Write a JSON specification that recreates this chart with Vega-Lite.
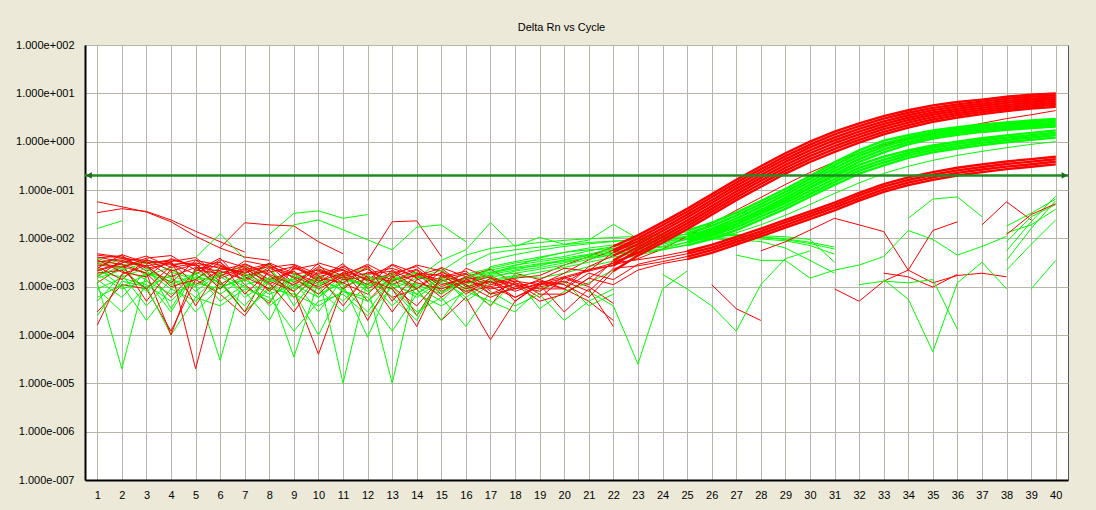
{
"$schema":"https://vega.github.io/schema/vega-lite/v6.json",
"autosize":"none",
"width":983,"height":435,
"padding":{"left":85,"top":45,"right":28,"bottom":30},
"background":"#ece9d8",
"title":{"text":"Delta Rn vs Cycle","font":"Liberation Sans","fontSize":11,"fontWeight":"normal","color":"#000000","anchor":"middle","dx":-15,"offset":6},
"config":{"view":{"fill":"#ffffff","stroke":"#555555","strokeWidth":1},
"axis":{"labelFont":"Liberation Sans","labelFontSize":11,"labelColor":"#000000","gridColor":"#b8b4a8","gridOpacity":1,"gridWidth":1,"domainColor":"#000000","domainWidth":2,"ticks":false,"title":null,"labelOverlap":false,"labelFlush":false}},
"datasets":{
"ser":[
{"s":"R1","t":"r"},{"s":"R2","t":"r"},{"s":"R3","t":"r"},{"s":"R4","t":"r"},{"s":"R5","t":"r"},{"s":"R6","t":"r"},{"s":"R7","t":"r"},{"s":"R8","t":"r"},{"s":"R9","t":"r"},
{"s":"L1","t":"r"},{"s":"L2","t":"r"},{"s":"L3","t":"r"},{"s":"L4","t":"r"},
{"s":"H1","t":"r"},{"s":"H2","t":"r"},{"s":"H5","t":"r"},{"s":"H6","t":"r"},{"s":"N1","t":"r"},{"s":"N2","t":"r"},{"s":"N5","t":"r"},{"s":"N7","t":"r"},{"s":"N8","t":"r"},
{"s":"S1","t":"r"},{"s":"S2","t":"r"},{"s":"S6","t":"r"},{"s":"S7","t":"r"},{"s":"S8","t":"r"},{"s":"C6","t":"r"},
{"s":"A1","t":"g"},{"s":"A2","t":"g"},{"s":"A3","t":"g"},{"s":"A4","t":"g"},{"s":"A5","t":"g"},
{"s":"B1","t":"g"},{"s":"B2","t":"g"},{"s":"B3","t":"g"},{"s":"B4","t":"g"},{"s":"G1","t":"g"},
{"s":"F1","t":"g"},{"s":"F2","t":"g"},{"s":"F3","t":"g"},{"s":"F4","t":"g"},{"s":"F5","t":"g"},
{"s":"H3","t":"g"},{"s":"H4","t":"g"},{"s":"H7","t":"g"},{"s":"H8","t":"g"},{"s":"N3","t":"g"},{"s":"N4","t":"g"},{"s":"N6","t":"g"},{"s":"N9","t":"g"},{"s":"N10","t":"g"},
{"s":"S3","t":"g"},{"s":"S4","t":"g"},{"s":"S5","t":"g"},{"s":"S10","t":"g"},{"s":"W2","t":"g"},{"s":"W3","t":"g"},
{"s":"C1","t":"g"},{"s":"C2","t":"g"},{"s":"C3","t":"g"},{"s":"C4","t":"g"},{"s":"C5","t":"g"},{"s":"C7","t":"g"},{"s":"C8","t":"g"}
],
"pts":[
{"s":"N1","c":1,"v":0.0048},{"s":"N1","c":2,"v":0.0041},{"s":"N1","c":3,"v":0.003},{"s":"N1","c":4,"v":0.0036},{"s":"N1","c":5,"v":0.0027},{"s":"N1","c":6,"v":0.0032},{"s":"N1","c":7,"v":0.0013},{"s":"N1","c":8,"v":0.0025},{"s":"N1","c":9,"v":0.0029},{"s":"N1","c":10,"v":0.0018},{"s":"N1","c":11,"v":0.0023},{"s":"N1","c":12,"v":0.0005},{"s":"N1","c":13,"v":0.0017},{"s":"N1","c":14,"v":0.0028},{"s":"N1","c":15,"v":0.0021},{"s":"N1","c":16,"v":0.0011},{"s":"N1","c":17,"v":0.0004},{"s":"N1","c":18,"v":0.0019},{"s":"N1","c":19,"v":0.0014},{"s":"N1","c":20,"v":0.0009},{"s":"N1","c":21,"v":0.0005},{"s":"N1","c":22,"v":0.0002},
{"s":"N3","c":1,"v":0.0006},{"s":"N3","c":2,"v":0.0011},{"s":"N3","c":3,"v":0.0002},{"s":"N3","c":4,"v":0.0009},{"s":"N3","c":5,"v":0.0005},{"s":"N3","c":6,"v":0.0012},{"s":"N3","c":7,"v":0.0003},{"s":"N3","c":8,"v":0.0009},{"s":"N3","c":9,"v":0.0007},{"s":"N3","c":10,"v":0.0004},{"s":"N3","c":11,"v":0.0008},{"s":"N3","c":12,"v":0.0006},{"s":"N3","c":13,"v":0.00012},{"s":"N3","c":14,"v":0.0007},{"s":"N3","c":15,"v":0.0004},{"s":"N3","c":16,"v":0.0008},{"s":"N3","c":17,"v":0.0005},{"s":"N3","c":18,"v":0.0003},{"s":"N3","c":19,"v":0.0009},{"s":"N3","c":20,"v":0.0013},{"s":"N3","c":21,"v":0.0004},{"s":"N3","c":22,"v":0.0007},
{"s":"N7","c":1,"v":0.0039},{"s":"N7","c":2,"v":0.0044},{"s":"N7","c":3,"v":0.0021},{"s":"N7","c":4,"v":0.0033},{"s":"N7","c":5,"v":0.004},{"s":"N7","c":6,"v":0.0016},{"s":"N7","c":7,"v":0.0034},{"s":"N7","c":8,"v":0.0027},{"s":"N7","c":9,"v":0.001},{"s":"N7","c":10,"v":0.0031},{"s":"N7","c":11,"v":0.0022},{"s":"N7","c":12,"v":0.0014},{"s":"N7","c":13,"v":0.0029},{"s":"N7","c":14,"v":0.0019},{"s":"N7","c":15,"v":0.0007},{"s":"N7","c":16,"v":0.0024},{"s":"N7","c":17,"v":0.0015},{"s":"N7","c":18,"v":0.0009},
{"s":"N9","c":1,"v":0.0027},{"s":"N9","c":2,"v":0.0036},{"s":"N9","c":3,"v":0.0017},{"s":"N9","c":4,"v":0.0025},{"s":"N9","c":5,"v":0.0008},{"s":"N9","c":6,"v":0.0019},{"s":"N9","c":7,"v":0.0026},{"s":"N9","c":8,"v":0.0013},{"s":"N9","c":9,"v":0.0021},{"s":"N9","c":10,"v":0.0006},{"s":"N9","c":11,"v":0.0018},{"s":"N9","c":12,"v":0.0024},{"s":"N9","c":13,"v":0.0009},{"s":"N9","c":14,"v":0.0015},{"s":"N9","c":15,"v":0.0022},{"s":"N9","c":16,"v":0.001},{"s":"N9","c":17,"v":0.0004},{"s":"N9","c":18,"v":0.0013},
{"s":"N2","c":1,"v":0.0022},{"s":"N2","c":2,"v":0.0031},{"s":"N2","c":3,"v":0.0043},{"s":"N2","c":4,"v":0.0025},{"s":"N2","c":5,"v":0.003},{"s":"N2","c":6,"v":0.0011},{"s":"N2","c":7,"v":0.0022},{"s":"N2","c":8,"v":0.003},{"s":"N2","c":9,"v":0.0012},{"s":"N2","c":10,"v":0.0026},{"s":"N2","c":11,"v":0.0017},{"s":"N2","c":12,"v":0.0029},{"s":"N2","c":13,"v":0.0016},{"s":"N2","c":14,"v":0.0009},{"s":"N2","c":15,"v":0.0025},{"s":"N2","c":16,"v":0.0016},{"s":"N2","c":17,"v":0.0023},{"s":"N2","c":18,"v":0.0012},{"s":"N2","c":19,"v":0.0006},{"s":"N2","c":20,"v":0.0015},{"s":"N2","c":21,"v":0.001},{"s":"N2","c":22,"v":0.00045},
{"s":"N4","c":1,"v":0.0038},{"s":"N4","c":2,"v":0.0028},{"s":"N4","c":3,"v":0.0034},{"s":"N4","c":4,"v":0.0022},{"s":"N4","c":5,"v":0.0015},{"s":"N4","c":6,"v":0.0024},{"s":"N4","c":7,"v":0.0018},{"s":"N4","c":8,"v":0.0009},{"s":"N4","c":9,"v":0.0014},{"s":"N4","c":10,"v":0.0023},{"s":"N4","c":11,"v":0.0016},{"s":"N4","c":12,"v":0.001},{"s":"N4","c":13,"v":0.002},{"s":"N4","c":14,"v":0.0007},{"s":"N4","c":15,"v":0.0017},{"s":"N4","c":16,"v":0.0005},{"s":"N4","c":17,"v":0.0011},{"s":"N4","c":18,"v":0.0016},{"s":"N4","c":19,"v":0.00035},{"s":"N4","c":20,"v":0.0008},{"s":"N4","c":21,"v":0.0012},{"s":"N4","c":22,"v":0.0022},
{"s":"N8","c":1,"v":0.0012},{"s":"N8","c":2,"v":0.0026},{"s":"N8","c":3,"v":0.0019},{"s":"N8","c":4,"v":0.0006},{"s":"N8","c":5,"v":0.0021},{"s":"N8","c":6,"v":0.0039},{"s":"N8","c":7,"v":0.0011},{"s":"N8","c":8,"v":0.00045},{"s":"N8","c":9,"v":0.0026},{"s":"N8","c":10,"v":0.0014},{"s":"N8","c":11,"v":0.003},{"s":"N8","c":12,"v":0.0009},{"s":"N8","c":13,"v":0.0018},{"s":"N8","c":14,"v":0.00025},{"s":"N8","c":15,"v":0.0016},{"s":"N8","c":16,"v":0.0021},{"s":"N8","c":17,"v":0.0008},
{"s":"N10","c":1,"v":0.0015},{"s":"N10","c":2,"v":0.0022},{"s":"N10","c":3,"v":0.0031},{"s":"N10","c":4,"v":0.00035},{"s":"N10","c":5,"v":0.0024},{"s":"N10","c":6,"v":0.001},{"s":"N10","c":7,"v":0.0014},{"s":"N10","c":8,"v":0.0028},{"s":"N10","c":9,"v":0.0004},{"s":"N10","c":10,"v":0.0017},{"s":"N10","c":11,"v":0.0011},{"s":"N10","c":12,"v":0.00009},{"s":"N10","c":13,"v":0.0013},{"s":"N10","c":14,"v":0.002},{"s":"N10","c":15,"v":0.0009},{"s":"N10","c":16,"v":0.0016},
{"s":"N5","c":1,"v":0.0003},{"s":"N5","c":2,"v":0.0011},{"s":"N5","c":3,"v":0.0009},{"s":"N5","c":4,"v":0.00012},{"s":"N5","c":5,"v":0.0014},{"s":"N5","c":6,"v":0.0007},{"s":"N5","c":7,"v":0.00025},{"s":"N5","c":8,"v":0.0013},{"s":"N5","c":9,"v":0.0008},{"s":"N5","c":10,"v":0.00004},{"s":"N5","c":11,"v":0.001},{"s":"N5","c":12,"v":0.0015},{"s":"N5","c":13,"v":0.0006},{"s":"N5","c":14,"v":0.0009},{"s":"N5","c":15,"v":0.0002},{"s":"N5","c":16,"v":0.0006},{"s":"N5","c":17,"v":0.00008},{"s":"N5","c":18,"v":0.0005},{"s":"N5","c":19,"v":0.0011},{"s":"N5","c":20,"v":0.0003},{"s":"N5","c":21,"v":0.0009},{"s":"N5","c":22,"v":0.00015},
{"s":"N6","c":1,"v":0.0009},{"s":"N6","c":2,"v":0.0003},{"s":"N6","c":3,"v":0.001},{"s":"N6","c":4,"v":0.0001},{"s":"N6","c":5,"v":0.0006},{"s":"N6","c":6,"v":0.0004},{"s":"N6","c":7,"v":0.0009},{"s":"N6","c":8,"v":0.0006},{"s":"N6","c":9,"v":0.00012},{"s":"N6","c":10,"v":0.0005},{"s":"N6","c":11,"v":0.0007},{"s":"N6","c":12,"v":0.00025},{"s":"N6","c":13,"v":0.001},{"s":"N6","c":14,"v":0.0003},{"s":"N6","c":15,"v":0.0006},{"s":"N6","c":16,"v":0.00015},{"s":"N6","c":17,"v":0.0008},{"s":"N6","c":18,"v":0.0004},{"s":"N6","c":19,"v":0.0007},{"s":"N6","c":20,"v":0.0002},{"s":"N6","c":21,"v":0.0005},{"s":"N6","c":22,"v":0.0009},
{"s":"H1","c":1,"v":0.057},{"s":"H1","c":2,"v":0.045},{"s":"H1","c":3,"v":0.035},{"s":"H1","c":4,"v":0.022},{"s":"H1","c":5,"v":0.011},{"s":"H1","c":6,"v":0.0063},{"s":"H1","c":7,"v":0.0041},{"s":"H1","c":8,"v":0.0035},
{"s":"H2","c":1,"v":0.034},{"s":"H2","c":2,"v":0.041},{"s":"H2","c":3,"v":0.036},{"s":"H2","c":4,"v":0.024},{"s":"H2","c":5,"v":0.014},{"s":"H2","c":6,"v":0.0085},{"s":"H2","c":7,"v":0.0052},
{"s":"H3","c":1,"v":0.016},{"s":"H3","c":2,"v":0.023},
{"s":"H4","c":8,"v":0.012},{"s":"H4","c":9,"v":0.033},{"s":"H4","c":10,"v":0.037},{"s":"H4","c":11,"v":0.026},{"s":"H4","c":12,"v":0.031},
{"s":"H5","c":6,"v":0.0064},{"s":"H5","c":7,"v":0.021},{"s":"H5","c":8,"v":0.019},{"s":"H5","c":9,"v":0.018},{"s":"H5","c":10,"v":0.0085},{"s":"H5","c":11,"v":0.0048},
{"s":"H6","c":12,"v":0.0035},{"s":"H6","c":13,"v":0.022},{"s":"H6","c":14,"v":0.023},{"s":"H6","c":15,"v":0.0042},
{"s":"H7","c":8,"v":0.0062},{"s":"H7","c":9,"v":0.019},{"s":"H7","c":10,"v":0.024},{"s":"H7","c":11,"v":0.015},{"s":"H7","c":12,"v":0.0093},{"s":"H7","c":13,"v":0.0058},{"s":"H7","c":14,"v":0.017},{"s":"H7","c":15,"v":0.019},{"s":"H7","c":16,"v":0.0085},
{"s":"H8","c":5,"v":0.004},{"s":"H8","c":6,"v":0.0125},{"s":"H8","c":7,"v":0.0038},
{"s":"F1","c":15,"v":0.0021},{"s":"F1","c":16,"v":0.0045},{"s":"F1","c":17,"v":0.0062},{"s":"F1","c":18,"v":0.0071},{"s":"F1","c":19,"v":0.0082},{"s":"F1","c":20,"v":0.0091},{"s":"F1","c":21,"v":0.0098},{"s":"F1","c":22,"v":0.0104},{"s":"F1","c":23,"v":0.011},{"s":"F1","c":24,"v":0.0115},{"s":"F1","c":25,"v":0.012},{"s":"F1","c":26,"v":0.0118},{"s":"F1","c":27,"v":0.0112},{"s":"F1","c":28,"v":0.0105},{"s":"F1","c":29,"v":0.0094},{"s":"F1","c":30,"v":0.0078},{"s":"F1","c":31,"v":0.006},
{"s":"F2","c":16,"v":0.0028},{"s":"F2","c":17,"v":0.0049},{"s":"F2","c":18,"v":0.0058},{"s":"F2","c":19,"v":0.0066},{"s":"F2","c":20,"v":0.0074},{"s":"F2","c":21,"v":0.0082},{"s":"F2","c":22,"v":0.0088},{"s":"F2","c":23,"v":0.0094},{"s":"F2","c":24,"v":0.0098},{"s":"F2","c":25,"v":0.0101},{"s":"F2","c":26,"v":0.0103},{"s":"F2","c":27,"v":0.0101},{"s":"F2","c":28,"v":0.0097},{"s":"F2","c":29,"v":0.0089},{"s":"F2","c":30,"v":0.0071},{"s":"F2","c":31,"v":0.0047},
{"s":"F3","c":17,"v":0.0035},{"s":"F3","c":18,"v":0.0046},{"s":"F3","c":19,"v":0.0057},{"s":"F3","c":20,"v":0.0068},{"s":"F3","c":21,"v":0.0077},{"s":"F3","c":22,"v":0.0086},{"s":"F3","c":23,"v":0.0095},{"s":"F3","c":24,"v":0.0103},{"s":"F3","c":25,"v":0.0108},{"s":"F3","c":26,"v":0.0112},{"s":"F3","c":27,"v":0.0114},{"s":"F3","c":28,"v":0.0113},{"s":"F3","c":29,"v":0.0108},{"s":"F3","c":30,"v":0.0095},{"s":"F3","c":31,"v":0.0032},
{"s":"F4","c":17,"v":0.0019},{"s":"F4","c":18,"v":0.0027},{"s":"F4","c":19,"v":0.0039},{"s":"F4","c":20,"v":0.0051},{"s":"F4","c":21,"v":0.0063},{"s":"F4","c":22,"v":0.0073},{"s":"F4","c":23,"v":0.0082},{"s":"F4","c":24,"v":0.0089},{"s":"F4","c":25,"v":0.0094},{"s":"F4","c":26,"v":0.0097},{"s":"F4","c":27,"v":0.0092},{"s":"F4","c":28,"v":0.0086},{"s":"F4","c":29,"v":0.0063},{"s":"F4","c":30,"v":0.0035},{"s":"F4","c":31,"v":0.0019},
{"s":"F5","c":14,"v":0.0015},{"s":"F5","c":15,"v":0.0035},{"s":"F5","c":16,"v":0.0058},{"s":"F5","c":17,"v":0.021},{"s":"F5","c":18,"v":0.0068},{"s":"F5","c":19,"v":0.0105},{"s":"F5","c":20,"v":0.0075},{"s":"F5","c":21,"v":0.0092},{"s":"F5","c":22,"v":0.0195},{"s":"F5","c":23,"v":0.0098},{"s":"F5","c":24,"v":0.0125},{"s":"F5","c":25,"v":0.0135},{"s":"F5","c":26,"v":0.0128},{"s":"F5","c":27,"v":0.012},{"s":"F5","c":28,"v":0.0107},{"s":"F5","c":29,"v":0.0098},{"s":"F5","c":30,"v":0.0083},{"s":"F5","c":31,"v":0.0066},
{"s":"S1","c":28,"v":0.0055},{"s":"S1","c":29,"v":0.0085},{"s":"S1","c":30,"v":0.0148},{"s":"S1","c":31,"v":0.026},{"s":"S1","c":32,"v":0.019},{"s":"S1","c":33,"v":0.0138},{"s":"S1","c":34,"v":0.0022},{"s":"S1","c":35,"v":0.0145},{"s":"S1","c":36,"v":0.022},
{"s":"S2","c":31,"v":0.0009},{"s":"S2","c":32,"v":0.0005},{"s":"S2","c":33,"v":0.0013},{"s":"S2","c":34,"v":0.0022},{"s":"S2","c":35,"v":0.0012},{"s":"S2","c":36,"v":0.0017},{"s":"S2","c":37,"v":0.0019},{"s":"S2","c":38,"v":0.0016},
{"s":"S6","c":26,"v":0.0011},{"s":"S6","c":27,"v":0.00035},{"s":"S6","c":28,"v":0.0002},
{"s":"S7","c":33,"v":0.0019},{"s":"S7","c":34,"v":0.0016},{"s":"S7","c":35,"v":0.00098},{"s":"S7","c":36,"v":0.0018},
{"s":"S8","c":37,"v":0.019},{"s":"S8","c":38,"v":0.057},{"s":"S8","c":39,"v":0.024},
{"s":"S3","c":34,"v":0.026},{"s":"S3","c":35,"v":0.065},{"s":"S3","c":36,"v":0.072},{"s":"S3","c":37,"v":0.028},
{"s":"S4","c":27,"v":0.0045},{"s":"S4","c":28,"v":0.0035},{"s":"S4","c":29,"v":0.0035},{"s":"S4","c":30,"v":0.0015},{"s":"S4","c":31,"v":0.0022},{"s":"S4","c":32,"v":0.0028},{"s":"S4","c":33,"v":0.0042},{"s":"S4","c":34,"v":0.0145},{"s":"S4","c":35,"v":0.0095},{"s":"S4","c":36,"v":0.0045},{"s":"S4","c":37,"v":0.0068},{"s":"S4","c":38,"v":0.011},
{"s":"S5","c":33,"v":0.0014},{"s":"S5","c":34,"v":0.00055},{"s":"S5","c":35,"v":0.000045},{"s":"S5","c":36,"v":0.0012},{"s":"S5","c":37,"v":0.0032},{"s":"S5","c":38,"v":0.0009},
{"s":"S10","c":32,"v":0.0011},{"s":"S10","c":33,"v":0.0013},{"s":"S10","c":34,"v":0.0012},{"s":"S10","c":35,"v":0.0014},{"s":"S10","c":36,"v":0.00013},
{"s":"W2","c":24,"v":0.0018},{"s":"W2","c":25,"v":0.0009},{"s":"W2","c":26,"v":0.0004},{"s":"W2","c":27,"v":0.00012},{"s":"W2","c":28,"v":0.0011},{"s":"W2","c":29,"v":0.0038},{"s":"W2","c":30,"v":0.0055},
{"s":"W3","c":21,"v":0.0008},{"s":"W3","c":22,"v":0.0004},{"s":"W3","c":23,"v":0.000025},{"s":"W3","c":24,"v":0.0009},{"s":"W3","c":25,"v":0.0021},
{"s":"C1","c":38,"v":0.0035},{"s":"C1","c":39,"v":0.016},{"s":"C1","c":40,"v":0.06},
{"s":"C2","c":38,"v":0.0055},{"s":"C2","c":39,"v":0.022},{"s":"C2","c":40,"v":0.075},
{"s":"C3","c":38,"v":0.0085},{"s":"C3","c":39,"v":0.028},{"s":"C3","c":40,"v":0.05},
{"s":"C4","c":38,"v":0.013},{"s":"C4","c":39,"v":0.019},{"s":"C4","c":40,"v":0.04},
{"s":"C5","c":38,"v":0.018},{"s":"C5","c":39,"v":0.033},{"s":"C5","c":40,"v":0.065},
{"s":"C7","c":39,"v":0.0009},{"s":"C7","c":40,"v":0.0035},
{"s":"C8","c":38,"v":0.0022},{"s":"C8","c":39,"v":0.0075},{"s":"C8","c":40,"v":0.024},
{"s":"C6","c":38,"v":0.012},{"s":"C6","c":39,"v":0.031},{"s":"C6","c":40,"v":0.052},
{"s":"G1","c":1,"v":0.0018},{"s":"G1","c":2,"v":0.0009},{"s":"G1","c":3,"v":0.0013},{"s":"G1","c":4,"v":0.0007},{"s":"G1","c":5,"v":0.0012},{"s":"G1","c":6,"v":0.0009},{"s":"G1","c":7,"v":0.0017},{"s":"G1","c":8,"v":0.0004},{"s":"G1","c":9,"v":0.001},{"s":"G1","c":10,"v":0.0016},{"s":"G1","c":11,"v":0.0008},{"s":"G1","c":12,"v":0.0005},{"s":"G1","c":13,"v":0.0013},{"s":"G1","c":14,"v":0.0009},{"s":"G1","c":15,"v":0.0002},{"s":"G1","c":16,"v":0.001},{"s":"G1","c":17,"v":0.0014},{"s":"G1","c":18,"v":0.0017},{"s":"G1","c":19,"v":0.0015},{"s":"G1","c":20,"v":0.0019},{"s":"G1","c":21,"v":0.0026},{"s":"G1","c":22,"v":0.0034},{"s":"G1","c":23,"v":0.0045},{"s":"G1","c":24,"v":0.0058},{"s":"G1","c":25,"v":0.0074},{"s":"G1","c":26,"v":0.0095},{"s":"G1","c":27,"v":0.013},{"s":"G1","c":28,"v":0.019},{"s":"G1","c":29,"v":0.03},{"s":"G1","c":30,"v":0.05},{"s":"G1","c":31,"v":0.085},{"s":"G1","c":32,"v":0.14},{"s":"G1","c":33,"v":0.22},{"s":"G1","c":34,"v":0.31},{"s":"G1","c":35,"v":0.41},{"s":"G1","c":36,"v":0.52},{"s":"G1","c":37,"v":0.63},{"s":"G1","c":38,"v":0.75},{"s":"G1","c":39,"v":0.88},{"s":"G1","c":40,"v":1.0},
{"s":"R9","c":1,"v":0.003},{"s":"R9","c":2,"v":0.0026},{"s":"R9","c":3,"v":0.0033},{"s":"R9","c":4,"v":0.0016},{"s":"R9","c":5,"v":0.0025},{"s":"R9","c":6,"v":0.0021},{"s":"R9","c":7,"v":0.0014},{"s":"R9","c":8,"v":0.0031},{"s":"R9","c":9,"v":0.0019},{"s":"R9","c":10,"v":0.0012},{"s":"R9","c":11,"v":0.0027},{"s":"R9","c":12,"v":0.0016},{"s":"R9","c":13,"v":0.0013},{"s":"R9","c":14,"v":0.0022},{"s":"R9","c":15,"v":0.0008},{"s":"R9","c":16,"v":0.0014},{"s":"R9","c":17,"v":0.0017},{"s":"R9","c":18,"v":0.0009},{"s":"R9","c":19,"v":0.0011},{"s":"R9","c":20,"v":0.0015},{"s":"R9","c":21,"v":0.0021},{"s":"R9","c":22,"v":0.0028},{"s":"R9","c":23,"v":0.0038},{"s":"R9","c":24,"v":0.006},{"s":"R9","c":25,"v":0.011},{"s":"R9","c":26,"v":0.02},{"s":"R9","c":27,"v":0.038},{"s":"R9","c":28,"v":0.07},{"s":"R9","c":29,"v":0.13},{"s":"R9","c":30,"v":0.23},{"s":"R9","c":31,"v":0.38},{"s":"R9","c":32,"v":0.58},{"s":"R9","c":33,"v":0.85},{"s":"R9","c":34,"v":1.15},{"s":"R9","c":35,"v":1.5},{"s":"R9","c":36,"v":1.9},{"s":"R9","c":37,"v":2.4},{"s":"R9","c":38,"v":3.0},{"s":"R9","c":39,"v":3.6},{"s":"R9","c":40,"v":4.4},
{"s":"B1","c":1,"v":0.0009},{"s":"B1","c":2,"v":0.0015},{"s":"B1","c":3,"v":0.0011},{"s":"B1","c":4,"v":0.0005},{"s":"B1","c":5,"v":0.0016},{"s":"B1","c":6,"v":0.0013},{"s":"B1","c":7,"v":0.0003},{"s":"B1","c":8,"v":0.001},{"s":"B1","c":9,"v":0.000035},{"s":"B1","c":10,"v":0.0013},{"s":"B1","c":11,"v":0.0009},{"s":"B1","c":12,"v":0.0003},{"s":"B1","c":13,"v":0.0015},{"s":"B1","c":14,"v":0.0011},{"s":"B1","c":15,"v":0.0007},{"s":"B1","c":16,"v":0.0014},{"s":"B1","c":17,"v":0.0019},{"s":"B1","c":18,"v":0.0024},{"s":"B1","c":19,"v":0.0027},{"s":"B1","c":20,"v":0.0036},{"s":"B1","c":21,"v":0.0045},{"s":"B1","c":22,"v":0.0058},{"s":"B1","c":23,"v":0.0072},{"s":"B1","c":24,"v":0.0087},{"s":"B1","c":25,"v":0.011},{"s":"B1","c":26,"v":0.0148},{"s":"B1","c":27,"v":0.0224},{"s":"B1","c":28,"v":0.0371},{"s":"B1","c":29,"v":0.0616},{"s":"B1","c":30,"v":0.11},{"s":"B1","c":31,"v":0.194},{"s":"B1","c":32,"v":0.331},{"s":"B1","c":33,"v":0.49},{"s":"B1","c":34,"v":0.656},{"s":"B1","c":35,"v":0.835},{"s":"B1","c":36,"v":1.0},{"s":"B1","c":37,"v":1.18},{"s":"B1","c":38,"v":1.35},{"s":"B1","c":39,"v":1.52},{"s":"B1","c":40,"v":1.71},
{"s":"L1","c":1,"v":0.0045},{"s":"L1","c":2,"v":0.0039},{"s":"L1","c":3,"v":0.0024},{"s":"L1","c":4,"v":0.003},{"s":"L1","c":5,"v":0.0018},{"s":"L1","c":6,"v":0.0036},{"s":"L1","c":7,"v":0.0025},{"s":"L1","c":8,"v":0.0011},{"s":"L1","c":9,"v":0.0023},{"s":"L1","c":10,"v":0.0029},{"s":"L1","c":11,"v":0.0009},{"s":"L1","c":12,"v":0.002},{"s":"L1","c":13,"v":0.0014},{"s":"L1","c":14,"v":0.0017},{"s":"L1","c":15,"v":0.0024},{"s":"L1","c":16,"v":0.001},{"s":"L1","c":17,"v":0.0013},{"s":"L1","c":18,"v":0.0008},{"s":"L1","c":19,"v":0.0012},{"s":"L1","c":20,"v":0.0016},{"s":"L1","c":21,"v":0.0022},{"s":"L1","c":22,"v":0.0031},{"s":"L1","c":23,"v":0.0036},{"s":"L1","c":24,"v":0.0043},{"s":"L1","c":25,"v":0.0054},{"s":"L1","c":26,"v":0.0073},{"s":"L1","c":27,"v":0.0107},{"s":"L1","c":28,"v":0.0159},{"s":"L1","c":29,"v":0.024},{"s":"L1","c":30,"v":0.0363},{"s":"L1","c":31,"v":0.0549},{"s":"L1","c":32,"v":0.087},{"s":"L1","c":33,"v":0.132},{"s":"L1","c":34,"v":0.182},{"s":"L1","c":35,"v":0.234},{"s":"L1","c":36,"v":0.288},{"s":"L1","c":37,"v":0.339},{"s":"L1","c":38,"v":0.389},{"s":"L1","c":39,"v":0.436},{"s":"L1","c":40,"v":0.489},
{"s":"A1","c":1,"v":0.002},{"s":"A1","c":2,"v":0.0016},{"s":"A1","c":3,"v":0.0024},{"s":"A1","c":4,"v":0.0011},{"s":"A1","c":5,"v":0.0018},{"s":"A1","c":6,"v":0.0007},{"s":"A1","c":7,"v":0.0015},{"s":"A1","c":8,"v":0.0022},{"s":"A1","c":9,"v":0.0009},{"s":"A1","c":10,"v":0.0014},{"s":"A1","c":11,"v":0.0005},{"s":"A1","c":12,"v":0.0016},{"s":"A1","c":13,"v":0.0012},{"s":"A1","c":14,"v":0.0006},{"s":"A1","c":15,"v":0.0013},{"s":"A1","c":16,"v":0.0018},{"s":"A1","c":17,"v":0.0024},{"s":"A1","c":18,"v":0.0031},{"s":"A1","c":19,"v":0.0036},{"s":"A1","c":20,"v":0.0042},{"s":"A1","c":21,"v":0.0055},{"s":"A1","c":22,"v":0.0068},{"s":"A1","c":23,"v":0.0085},{"s":"A1","c":24,"v":0.0105},{"s":"A1","c":25,"v":0.0145},{"s":"A1","c":26,"v":0.0208},{"s":"A1","c":27,"v":0.0339},{"s":"A1","c":28,"v":0.0589},{"s":"A1","c":29,"v":0.105},{"s":"A1","c":30,"v":0.195},{"s":"A1","c":31,"v":0.372},{"s":"A1","c":32,"v":0.66},{"s":"A1","c":33,"v":1.05},{"s":"A1","c":34,"v":1.37},{"s":"A1","c":35,"v":1.71},{"s":"A1","c":36,"v":1.99},{"s":"A1","c":37,"v":2.28},{"s":"A1","c":38,"v":2.5},{"s":"A1","c":39,"v":2.74},{"s":"A1","c":40,"v":2.94},
{"s":"R1","c":1,"v":0.0032},{"s":"R1","c":2,"v":0.0038},{"s":"R1","c":3,"v":0.0035},{"s":"R1","c":4,"v":0.0029},{"s":"R1","c":5,"v":0.0031},{"s":"R1","c":6,"v":0.0024},{"s":"R1","c":7,"v":0.002},{"s":"R1","c":8,"v":0.0026},{"s":"R1","c":9,"v":0.0018},{"s":"R1","c":10,"v":0.0022},{"s":"R1","c":11,"v":0.0015},{"s":"R1","c":12,"v":0.0019},{"s":"R1","c":13,"v":0.0024},{"s":"R1","c":14,"v":0.0016},{"s":"R1","c":15,"v":0.0013},{"s":"R1","c":16,"v":0.0018},{"s":"R1","c":17,"v":0.0012},{"s":"R1","c":18,"v":0.0015},{"s":"R1","c":19,"v":0.0017},{"s":"R1","c":20,"v":0.0028},{"s":"R1","c":21,"v":0.0042},{"s":"R1","c":22,"v":0.0068},{"s":"R1","c":23,"v":0.0115},{"s":"R1","c":24,"v":0.0214},{"s":"R1","c":25,"v":0.0407},{"s":"R1","c":26,"v":0.0813},{"s":"R1","c":27,"v":0.162},{"s":"R1","c":28,"v":0.309},{"s":"R1","c":29,"v":0.575},{"s":"R1","c":30,"v":1.0},{"s":"R1","c":31,"v":1.62},{"s":"R1","c":32,"v":2.4},{"s":"R1","c":33,"v":3.39},{"s":"R1","c":34,"v":4.47},{"s":"R1","c":35,"v":5.62},{"s":"R1","c":36,"v":6.61},{"s":"R1","c":37,"v":7.41},{"s":"R1","c":38,"v":8.51},{"s":"R1","c":39,"v":9.33},{"s":"R1","c":40,"v":10.0},
{"s":"B2","c":1,"v":0.0025},{"s":"B2","c":2,"v":0.001},{"s":"B2","c":3,"v":0.0018},{"s":"B2","c":4,"v":0.0013},{"s":"B2","c":5,"v":0.0003},{"s":"B2","c":6,"v":0.001},{"s":"B2","c":7,"v":0.0014},{"s":"B2","c":8,"v":0.0007},{"s":"B2","c":9,"v":0.0011},{"s":"B2","c":10,"v":0.0006},{"s":"B2","c":11,"v":0.0014},{"s":"B2","c":12,"v":0.0011},{"s":"B2","c":13,"v":0.0009},{"s":"B2","c":14,"v":0.00025},{"s":"B2","c":15,"v":0.0014},{"s":"B2","c":16,"v":0.0008},{"s":"B2","c":17,"v":0.0015},{"s":"B2","c":18,"v":0.0021},{"s":"B2","c":19,"v":0.0025},{"s":"B2","c":20,"v":0.0031},{"s":"B2","c":21,"v":0.0041},{"s":"B2","c":22,"v":0.005},{"s":"B2","c":23,"v":0.0064},{"s":"B2","c":24,"v":0.0076},{"s":"B2","c":25,"v":0.0096},{"s":"B2","c":26,"v":0.0129},{"s":"B2","c":27,"v":0.0195},{"s":"B2","c":28,"v":0.0324},{"s":"B2","c":29,"v":0.0537},{"s":"B2","c":30,"v":0.0955},{"s":"B2","c":31,"v":0.169},{"s":"B2","c":32,"v":0.288},{"s":"B2","c":33,"v":0.427},{"s":"B2","c":34,"v":0.583},{"s":"B2","c":35,"v":0.748},{"s":"B2","c":36,"v":0.9},{"s":"B2","c":37,"v":1.06},{"s":"B2","c":38,"v":1.21},{"s":"B2","c":39,"v":1.36},{"s":"B2","c":40,"v":1.53},
{"s":"L2","c":1,"v":0.0026},{"s":"L2","c":2,"v":0.0014},{"s":"L2","c":3,"v":0.0037},{"s":"L2","c":4,"v":0.0021},{"s":"L2","c":5,"v":0.0029},{"s":"L2","c":6,"v":0.0013},{"s":"L2","c":7,"v":0.0003},{"s":"L2","c":8,"v":0.0024},{"s":"L2","c":9,"v":0.0016},{"s":"L2","c":10,"v":0.001},{"s":"L2","c":11,"v":0.0018},{"s":"L2","c":12,"v":0.0027},{"s":"L2","c":13,"v":0.001},{"s":"L2","c":14,"v":0.0004},{"s":"L2","c":15,"v":0.0015},{"s":"L2","c":16,"v":0.0019},{"s":"L2","c":17,"v":0.0007},{"s":"L2","c":18,"v":0.0012},{"s":"L2","c":19,"v":0.0009},{"s":"L2","c":20,"v":0.0009},{"s":"L2","c":21,"v":0.0019},{"s":"L2","c":22,"v":0.0014},{"s":"L2","c":23,"v":0.0029},{"s":"L2","c":24,"v":0.0038},{"s":"L2","c":25,"v":0.0048},{"s":"L2","c":26,"v":0.0064},{"s":"L2","c":27,"v":0.0095},{"s":"L2","c":28,"v":0.014},{"s":"L2","c":29,"v":0.0213},{"s":"L2","c":30,"v":0.0321},{"s":"L2","c":31,"v":0.0486},{"s":"L2","c":32,"v":0.077},{"s":"L2","c":33,"v":0.117},{"s":"L2","c":34,"v":0.161},{"s":"L2","c":35,"v":0.207},{"s":"L2","c":36,"v":0.255},{"s":"L2","c":37,"v":0.3},{"s":"L2","c":38,"v":0.345},{"s":"L2","c":39,"v":0.386},{"s":"L2","c":40,"v":0.433},
{"s":"A2","c":1,"v":0.0012},{"s":"A2","c":2,"v":0.00002},{"s":"A2","c":3,"v":0.0019},{"s":"A2","c":4,"v":0.0015},{"s":"A2","c":5,"v":0.0006},{"s":"A2","c":6,"v":0.0018},{"s":"A2","c":7,"v":0.001},{"s":"A2","c":8,"v":0.0005},{"s":"A2","c":9,"v":0.0017},{"s":"A2","c":10,"v":0.0011},{"s":"A2","c":11,"v":0.0019},{"s":"A2","c":12,"v":0.0008},{"s":"A2","c":13,"v":0.0014},{"s":"A2","c":14,"v":0.0019},{"s":"A2","c":15,"v":0.0009},{"s":"A2","c":16,"v":0.0015},{"s":"A2","c":17,"v":0.0022},{"s":"A2","c":18,"v":0.0028},{"s":"A2","c":19,"v":0.0033},{"s":"A2","c":20,"v":0.0039},{"s":"A2","c":21,"v":0.0047},{"s":"A2","c":22,"v":0.0062},{"s":"A2","c":23,"v":0.0074},{"s":"A2","c":24,"v":0.0091},{"s":"A2","c":25,"v":0.0126},{"s":"A2","c":26,"v":0.0181},{"s":"A2","c":27,"v":0.0295},{"s":"A2","c":28,"v":0.0513},{"s":"A2","c":29,"v":0.0912},{"s":"A2","c":30,"v":0.17},{"s":"A2","c":31,"v":0.324},{"s":"A2","c":32,"v":0.575},{"s":"A2","c":33,"v":0.912},{"s":"A2","c":34,"v":1.22},{"s":"A2","c":35,"v":1.56},{"s":"A2","c":36,"v":1.82},{"s":"A2","c":37,"v":2.08},{"s":"A2","c":38,"v":2.29},{"s":"A2","c":39,"v":2.51},{"s":"A2","c":40,"v":2.69},
{"s":"R2","c":1,"v":0.0028},{"s":"R2","c":2,"v":0.0025},{"s":"R2","c":3,"v":0.0039},{"s":"R2","c":4,"v":0.0044},{"s":"R2","c":5,"v":0.0022},{"s":"R2","c":6,"v":0.0019},{"s":"R2","c":7,"v":0.0027},{"s":"R2","c":8,"v":0.0014},{"s":"R2","c":9,"v":0.0021},{"s":"R2","c":10,"v":0.0009},{"s":"R2","c":11,"v":0.0016},{"s":"R2","c":12,"v":0.0023},{"s":"R2","c":13,"v":0.0011},{"s":"R2","c":14,"v":0.0018},{"s":"R2","c":15,"v":0.0014},{"s":"R2","c":16,"v":0.0008},{"s":"R2","c":17,"v":0.001},{"s":"R2","c":18,"v":0.0013},{"s":"R2","c":19,"v":0.0011},{"s":"R2","c":20,"v":0.0019},{"s":"R2","c":21,"v":0.0036},{"s":"R2","c":22,"v":0.0057},{"s":"R2","c":23,"v":0.01},{"s":"R2","c":24,"v":0.0187},{"s":"R2","c":25,"v":0.0355},{"s":"R2","c":26,"v":0.0708},{"s":"R2","c":27,"v":0.141},{"s":"R2","c":28,"v":0.27},{"s":"R2","c":29,"v":0.502},{"s":"R2","c":30,"v":0.872},{"s":"R2","c":31,"v":1.41},{"s":"R2","c":32,"v":2.1},{"s":"R2","c":33,"v":2.99},{"s":"R2","c":34,"v":3.96},{"s":"R2","c":35,"v":5.01},{"s":"R2","c":36,"v":5.92},{"s":"R2","c":37,"v":6.73},{"s":"R2","c":38,"v":7.68},{"s":"R2","c":39,"v":8.55},{"s":"R2","c":40,"v":9.1},
{"s":"B3","c":1,"v":0.0014},{"s":"B3","c":2,"v":0.0006},{"s":"B3","c":3,"v":0.0021},{"s":"B3","c":4,"v":0.0009},{"s":"B3","c":5,"v":0.0019},{"s":"B3","c":6,"v":0.0005},{"s":"B3","c":7,"v":0.0011},{"s":"B3","c":8,"v":0.0015},{"s":"B3","c":9,"v":0.0008},{"s":"B3","c":10,"v":0.0001},{"s":"B3","c":11,"v":0.001},{"s":"B3","c":12,"v":0.0015},{"s":"B3","c":13,"v":0.0004},{"s":"B3","c":14,"v":0.0012},{"s":"B3","c":15,"v":0.0008},{"s":"B3","c":16,"v":0.0012},{"s":"B3","c":17,"v":0.0017},{"s":"B3","c":18,"v":0.0019},{"s":"B3","c":19,"v":0.0023},{"s":"B3","c":20,"v":0.0028},{"s":"B3","c":21,"v":0.0037},{"s":"B3","c":22,"v":0.0046},{"s":"B3","c":23,"v":0.0057},{"s":"B3","c":24,"v":0.0066},{"s":"B3","c":25,"v":0.0083},{"s":"B3","c":26,"v":0.0112},{"s":"B3","c":27,"v":0.017},{"s":"B3","c":28,"v":0.0282},{"s":"B3","c":29,"v":0.0467},{"s":"B3","c":30,"v":0.0831},{"s":"B3","c":31,"v":0.147},{"s":"B3","c":32,"v":0.251},{"s":"B3","c":33,"v":0.371},{"s":"B3","c":34,"v":0.519},{"s":"B3","c":35,"v":0.67},{"s":"B3","c":36,"v":0.805},{"s":"B3","c":37,"v":0.946},{"s":"B3","c":38,"v":1.086},{"s":"B3","c":39,"v":1.22},{"s":"B3","c":40,"v":1.37},
{"s":"L3","c":1,"v":0.0034},{"s":"L3","c":2,"v":0.0029},{"s":"L3","c":3,"v":0.0019},{"s":"L3","c":4,"v":0.0001},{"s":"L3","c":5,"v":0.0024},{"s":"L3","c":6,"v":0.0027},{"s":"L3","c":7,"v":0.0016},{"s":"L3","c":8,"v":0.0009},{"s":"L3","c":9,"v":0.0028},{"s":"L3","c":10,"v":0.0015},{"s":"L3","c":11,"v":0.0012},{"s":"L3","c":12,"v":0.0007},{"s":"L3","c":13,"v":0.0022},{"s":"L3","c":14,"v":0.0012},{"s":"L3","c":15,"v":0.0009},{"s":"L3","c":16,"v":0.0013},{"s":"L3","c":17,"v":0.001},{"s":"L3","c":18,"v":0.0006},{"s":"L3","c":19,"v":0.0011},{"s":"L3","c":20,"v":0.0013},{"s":"L3","c":21,"v":0.0008},{"s":"L3","c":22,"v":0.0024},{"s":"L3","c":23,"v":0.0027},{"s":"L3","c":24,"v":0.0033},{"s":"L3","c":25,"v":0.0042},{"s":"L3","c":26,"v":0.0057},{"s":"L3","c":27,"v":0.0084},{"s":"L3","c":28,"v":0.0124},{"s":"L3","c":29,"v":0.0188},{"s":"L3","c":30,"v":0.0284},{"s":"L3","c":31,"v":0.043},{"s":"L3","c":32,"v":0.068},{"s":"L3","c":33,"v":0.103},{"s":"L3","c":34,"v":0.142},{"s":"L3","c":35,"v":0.183},{"s":"L3","c":36,"v":0.226},{"s":"L3","c":37,"v":0.265},{"s":"L3","c":38,"v":0.305},{"s":"L3","c":39,"v":0.341},{"s":"L3","c":40,"v":0.383},
{"s":"A3","c":1,"v":0.0031},{"s":"A3","c":2,"v":0.0023},{"s":"A3","c":3,"v":0.0014},{"s":"A3","c":4,"v":0.0003},{"s":"A3","c":5,"v":0.002},{"s":"A3","c":6,"v":0.0012},{"s":"A3","c":7,"v":0.0004},{"s":"A3","c":8,"v":0.0016},{"s":"A3","c":9,"v":0.0013},{"s":"A3","c":10,"v":0.0003},{"s":"A3","c":11,"v":0.0015},{"s":"A3","c":12,"v":0.001},{"s":"A3","c":13,"v":0.00001},{"s":"A3","c":14,"v":0.0016},{"s":"A3","c":15,"v":0.0012},{"s":"A3","c":16,"v":0.0009},{"s":"A3","c":17,"v":0.0026},{"s":"A3","c":18,"v":0.0033},{"s":"A3","c":19,"v":0.0041},{"s":"A3","c":20,"v":0.0051},{"s":"A3","c":21,"v":0.0058},{"s":"A3","c":22,"v":0.0061},{"s":"A3","c":23,"v":0.0069},{"s":"A3","c":24,"v":0.0079},{"s":"A3","c":25,"v":0.011},{"s":"A3","c":26,"v":0.0158},{"s":"A3","c":27,"v":0.0257},{"s":"A3","c":28,"v":0.0447},{"s":"A3","c":29,"v":0.0794},{"s":"A3","c":30,"v":0.148},{"s":"A3","c":31,"v":0.282},{"s":"A3","c":32,"v":0.501},{"s":"A3","c":33,"v":0.794},{"s":"A3","c":34,"v":1.1},{"s":"A3","c":35,"v":1.41},{"s":"A3","c":36,"v":1.66},{"s":"A3","c":37,"v":1.9},{"s":"A3","c":38,"v":2.09},{"s":"A3","c":39,"v":2.29},{"s":"A3","c":40,"v":2.45},
{"s":"R3","c":1,"v":0.0041},{"s":"R3","c":2,"v":0.0033},{"s":"R3","c":3,"v":0.0026},{"s":"R3","c":4,"v":0.0012},{"s":"R3","c":5,"v":0.0035},{"s":"R3","c":6,"v":0.0028},{"s":"R3","c":7,"v":0.0017},{"s":"R3","c":8,"v":0.0022},{"s":"R3","c":9,"v":0.0006},{"s":"R3","c":10,"v":0.0019},{"s":"R3","c":11,"v":0.0025},{"s":"R3","c":12,"v":0.0013},{"s":"R3","c":13,"v":0.0019},{"s":"R3","c":14,"v":0.0026},{"s":"R3","c":15,"v":0.0011},{"s":"R3","c":16,"v":0.0015},{"s":"R3","c":17,"v":0.0007},{"s":"R3","c":18,"v":0.0009},{"s":"R3","c":19,"v":0.0014},{"s":"R3","c":20,"v":0.0024},{"s":"R3","c":21,"v":0.0021},{"s":"R3","c":22,"v":0.0052},{"s":"R3","c":23,"v":0.0087},{"s":"R3","c":24,"v":0.0162},{"s":"R3","c":25,"v":0.0309},{"s":"R3","c":26,"v":0.0616},{"s":"R3","c":27,"v":0.123},{"s":"R3","c":28,"v":0.235},{"s":"R3","c":29,"v":0.437},{"s":"R3","c":30,"v":0.759},{"s":"R3","c":31,"v":1.23},{"s":"R3","c":32,"v":1.84},{"s":"R3","c":33,"v":2.64},{"s":"R3","c":34,"v":3.52},{"s":"R3","c":35,"v":4.49},{"s":"R3","c":36,"v":5.34},{"s":"R3","c":37,"v":6.09},{"s":"R3","c":38,"v":6.97},{"s":"R3","c":39,"v":7.78},{"s":"R3","c":40,"v":8.31},
{"s":"B4","c":1,"v":0.0005},{"s":"B4","c":2,"v":0.0018},{"s":"B4","c":3,"v":0.0004},{"s":"B4","c":4,"v":0.0014},{"s":"B4","c":5,"v":0.001},{"s":"B4","c":6,"v":0.002},{"s":"B4","c":7,"v":0.0006},{"s":"B4","c":8,"v":0.0013},{"s":"B4","c":9,"v":0.0014},{"s":"B4","c":10,"v":0.0009},{"s":"B4","c":11,"v":0.0003},{"s":"B4","c":12,"v":0.0012},{"s":"B4","c":13,"v":0.0011},{"s":"B4","c":14,"v":0.0007},{"s":"B4","c":15,"v":0.0015},{"s":"B4","c":16,"v":0.0006},{"s":"B4","c":17,"v":0.0013},{"s":"B4","c":18,"v":0.0016},{"s":"B4","c":19,"v":0.002},{"s":"B4","c":20,"v":0.0025},{"s":"B4","c":21,"v":0.0032},{"s":"B4","c":22,"v":0.0041},{"s":"B4","c":23,"v":0.005},{"s":"B4","c":24,"v":0.0058},{"s":"B4","c":25,"v":0.0072},{"s":"B4","c":26,"v":0.0098},{"s":"B4","c":27,"v":0.0148},{"s":"B4","c":28,"v":0.0245},{"s":"B4","c":29,"v":0.0407},{"s":"B4","c":30,"v":0.0724},{"s":"B4","c":31,"v":0.128},{"s":"B4","c":32,"v":0.219},{"s":"B4","c":33,"v":0.324},{"s":"B4","c":34,"v":0.461},{"s":"B4","c":35,"v":0.6},{"s":"B4","c":36,"v":0.721},{"s":"B4","c":37,"v":0.847},{"s":"B4","c":38,"v":0.973},{"s":"B4","c":39,"v":1.09},{"s":"B4","c":40,"v":1.22},
{"s":"L4","c":1,"v":0.0016},{"s":"L4","c":2,"v":0.0035},{"s":"L4","c":3,"v":0.0027},{"s":"L4","c":4,"v":0.0032},{"s":"L4","c":5,"v":0.0011},{"s":"L4","c":6,"v":0.0022},{"s":"L4","c":7,"v":0.0029},{"s":"L4","c":8,"v":0.0017},{"s":"L4","c":9,"v":0.0008},{"s":"L4","c":10,"v":0.0021},{"s":"L4","c":11,"v":0.0014},{"s":"L4","c":12,"v":0.0016},{"s":"L4","c":13,"v":0.0003},{"s":"L4","c":14,"v":0.0014},{"s":"L4","c":15,"v":0.0019},{"s":"L4","c":16,"v":0.0007},{"s":"L4","c":17,"v":0.0015},{"s":"L4","c":18,"v":0.0011},{"s":"L4","c":19,"v":0.0005},{"s":"L4","c":20,"v":0.0007},{"s":"L4","c":21,"v":0.0015},{"s":"L4","c":22,"v":0.0011},{"s":"L4","c":23,"v":0.0022},{"s":"L4","c":24,"v":0.003},{"s":"L4","c":25,"v":0.0037},{"s":"L4","c":26,"v":0.005},{"s":"L4","c":27,"v":0.0074},{"s":"L4","c":28,"v":0.011},{"s":"L4","c":29,"v":0.0166},{"s":"L4","c":30,"v":0.0251},{"s":"L4","c":31,"v":0.038},{"s":"L4","c":32,"v":0.0602},{"s":"L4","c":33,"v":0.0915},{"s":"L4","c":34,"v":0.126},{"s":"L4","c":35,"v":0.162},{"s":"L4","c":36,"v":0.2},{"s":"L4","c":37,"v":0.235},{"s":"L4","c":38,"v":0.27},{"s":"L4","c":39,"v":0.302},{"s":"L4","c":40,"v":0.339},
{"s":"A4","c":1,"v":0.00025},{"s":"A4","c":2,"v":0.0013},{"s":"A4","c":3,"v":0.001},{"s":"A4","c":4,"v":0.0017},{"s":"A4","c":5,"v":0.0011},{"s":"A4","c":6,"v":0.00003},{"s":"A4","c":7,"v":0.0019},{"s":"A4","c":8,"v":0.0011},{"s":"A4","c":9,"v":0.0006},{"s":"A4","c":10,"v":0.0018},{"s":"A4","c":11,"v":0.00001},{"s":"A4","c":12,"v":0.0014},{"s":"A4","c":13,"v":0.0017},{"s":"A4","c":14,"v":0.001},{"s":"A4","c":15,"v":0.0005},{"s":"A4","c":16,"v":0.0016},{"s":"A4","c":17,"v":0.002},{"s":"A4","c":18,"v":0.0025},{"s":"A4","c":19,"v":0.003},{"s":"A4","c":20,"v":0.0035},{"s":"A4","c":21,"v":0.0044},{"s":"A4","c":22,"v":0.0052},{"s":"A4","c":23,"v":0.006},{"s":"A4","c":24,"v":0.0069},{"s":"A4","c":25,"v":0.0096},{"s":"A4","c":26,"v":0.0138},{"s":"A4","c":27,"v":0.0224},{"s":"A4","c":28,"v":0.0389},{"s":"A4","c":29,"v":0.0692},{"s":"A4","c":30,"v":0.129},{"s":"A4","c":31,"v":0.246},{"s":"A4","c":32,"v":0.436},{"s":"A4","c":33,"v":0.692},{"s":"A4","c":34,"v":0.981},{"s":"A4","c":35,"v":1.28},{"s":"A4","c":36,"v":1.52},{"s":"A4","c":37,"v":1.74},{"s":"A4","c":38,"v":1.91},{"s":"A4","c":39,"v":2.09},{"s":"A4","c":40,"v":2.24},
{"s":"R4","c":1,"v":0.0019},{"s":"R4","c":2,"v":0.0022},{"s":"R4","c":3,"v":0.0009},{"s":"R4","c":4,"v":0.0027},{"s":"R4","c":5,"v":0.0036},{"s":"R4","c":6,"v":0.0015},{"s":"R4","c":7,"v":0.0023},{"s":"R4","c":8,"v":0.0008},{"s":"R4","c":9,"v":0.0024},{"s":"R4","c":10,"v":0.0017},{"s":"R4","c":11,"v":0.0004},{"s":"R4","c":12,"v":0.0018},{"s":"R4","c":13,"v":0.0021},{"s":"R4","c":14,"v":0.0009},{"s":"R4","c":15,"v":0.002},{"s":"R4","c":16,"v":0.0012},{"s":"R4","c":17,"v":0.0016},{"s":"R4","c":18,"v":0.0005},{"s":"R4","c":19,"v":0.0012},{"s":"R4","c":20,"v":0.0009},{"s":"R4","c":21,"v":0.0026},{"s":"R4","c":22,"v":0.0044},{"s":"R4","c":23,"v":0.0076},{"s":"R4","c":24,"v":0.0142},{"s":"R4","c":25,"v":0.0269},{"s":"R4","c":26,"v":0.0537},{"s":"R4","c":27,"v":0.107},{"s":"R4","c":28,"v":0.205},{"s":"R4","c":29,"v":0.381},{"s":"R4","c":30,"v":0.661},{"s":"R4","c":31,"v":1.07},{"s":"R4","c":32,"v":1.62},{"s":"R4","c":33,"v":2.33},{"s":"R4","c":34,"v":3.13},{"s":"R4","c":35,"v":4.02},{"s":"R4","c":36,"v":4.81},{"s":"R4","c":37,"v":5.52},{"s":"R4","c":38,"v":6.33},{"s":"R4","c":39,"v":7.09},{"s":"R4","c":40,"v":7.58},
{"s":"A5","c":1,"v":0.0017},{"s":"A5","c":2,"v":0.0026},{"s":"A5","c":3,"v":0.0008},{"s":"A5","c":4,"v":0.002},{"s":"A5","c":5,"v":0.0014},{"s":"A5","c":6,"v":0.0016},{"s":"A5","c":7,"v":0.0008},{"s":"A5","c":8,"v":0.0002},{"s":"A5","c":9,"v":0.0019},{"s":"A5","c":10,"v":0.0007},{"s":"A5","c":11,"v":0.0012},{"s":"A5","c":12,"v":0.0018},{"s":"A5","c":13,"v":0.0006},{"s":"A5","c":14,"v":0.0002},{"s":"A5","c":15,"v":0.0017},{"s":"A5","c":16,"v":0.0011},{"s":"A5","c":17,"v":0.0018},{"s":"A5","c":18,"v":0.0022},{"s":"A5","c":19,"v":0.0029},{"s":"A5","c":20,"v":0.0033},{"s":"A5","c":21,"v":0.004},{"s":"A5","c":22,"v":0.0046},{"s":"A5","c":23,"v":0.0053},{"s":"A5","c":24,"v":0.006},{"s":"A5","c":25,"v":0.0083},{"s":"A5","c":26,"v":0.012},{"s":"A5","c":27,"v":0.0195},{"s":"A5","c":28,"v":0.0339},{"s":"A5","c":29,"v":0.0602},{"s":"A5","c":30,"v":0.112},{"s":"A5","c":31,"v":0.214},{"s":"A5","c":32,"v":0.38},{"s":"A5","c":33,"v":0.602},{"s":"A5","c":34,"v":0.879},{"s":"A5","c":35,"v":1.165},{"s":"A5","c":36,"v":1.39},{"s":"A5","c":37,"v":1.59},{"s":"A5","c":38,"v":1.75},{"s":"A5","c":39,"v":1.91},{"s":"A5","c":40,"v":2.05},
{"s":"R5","c":1,"v":0.0024},{"s":"R5","c":2,"v":0.0046},{"s":"R5","c":3,"v":0.0031},{"s":"R5","c":4,"v":0.0034},{"s":"R5","c":5,"v":0.0004},{"s":"R5","c":6,"v":0.0026},{"s":"R5","c":7,"v":0.0019},{"s":"R5","c":8,"v":0.0029},{"s":"R5","c":9,"v":0.0015},{"s":"R5","c":10,"v":0.0007},{"s":"R5","c":11,"v":0.002},{"s":"R5","c":12,"v":0.0011},{"s":"R5","c":13,"v":0.0028},{"s":"R5","c":14,"v":0.0015},{"s":"R5","c":15,"v":0.0006},{"s":"R5","c":16,"v":0.0014},{"s":"R5","c":17,"v":0.0009},{"s":"R5","c":18,"v":0.0011},{"s":"R5","c":19,"v":0.0008},{"s":"R5","c":20,"v":0.0016},{"s":"R5","c":21,"v":0.0011},{"s":"R5","c":22,"v":0.0035},{"s":"R5","c":23,"v":0.0066},{"s":"R5","c":24,"v":0.0123},{"s":"R5","c":25,"v":0.0234},{"s":"R5","c":26,"v":0.0467},{"s":"R5","c":27,"v":0.0933},{"s":"R5","c":28,"v":0.178},{"s":"R5","c":29,"v":0.331},{"s":"R5","c":30,"v":0.576},{"s":"R5","c":31,"v":0.933},{"s":"R5","c":32,"v":1.42},{"s":"R5","c":33,"v":2.06},{"s":"R5","c":34,"v":2.78},{"s":"R5","c":35,"v":3.6},{"s":"R5","c":36,"v":4.34},{"s":"R5","c":37,"v":4.99},{"s":"R5","c":38,"v":5.74},{"s":"R5","c":39,"v":6.45},{"s":"R5","c":40,"v":6.92},
{"s":"R6","c":1,"v":0.0036},{"s":"R6","c":2,"v":0.002},{"s":"R6","c":3,"v":0.0016},{"s":"R6","c":4,"v":0.0038},{"s":"R6","c":5,"v":0.0027},{"s":"R6","c":6,"v":0.0009},{"s":"R6","c":7,"v":0.003},{"s":"R6","c":8,"v":0.0018},{"s":"R6","c":9,"v":0.0011},{"s":"R6","c":10,"v":0.0024},{"s":"R6","c":11,"v":0.0012},{"s":"R6","c":12,"v":0.0026},{"s":"R6","c":13,"v":0.0005},{"s":"R6","c":14,"v":0.0019},{"s":"R6","c":15,"v":0.0017},{"s":"R6","c":16,"v":0.0009},{"s":"R6","c":17,"v":0.0013},{"s":"R6","c":18,"v":0.0006},{"s":"R6","c":19,"v":0.001},{"s":"R6","c":20,"v":0.0012},{"s":"R6","c":21,"v":0.0023},{"s":"R6","c":22,"v":0.0027},{"s":"R6","c":23,"v":0.0058},{"s":"R6","c":24,"v":0.0107},{"s":"R6","c":25,"v":0.0204},{"s":"R6","c":26,"v":0.0407},{"s":"R6","c":27,"v":0.0813},{"s":"R6","c":28,"v":0.155},{"s":"R6","c":29,"v":0.289},{"s":"R6","c":30,"v":0.502},{"s":"R6","c":31,"v":0.813},{"s":"R6","c":32,"v":1.24},{"s":"R6","c":33,"v":1.82},{"s":"R6","c":34,"v":2.48},{"s":"R6","c":35,"v":3.22},{"s":"R6","c":36,"v":3.91},{"s":"R6","c":37,"v":4.52},{"s":"R6","c":38,"v":5.21},{"s":"R6","c":39,"v":5.87},{"s":"R6","c":40,"v":6.32},
{"s":"R7","c":1,"v":0.00016},{"s":"R7","c":2,"v":0.0018},{"s":"R7","c":3,"v":0.0028},{"s":"R7","c":4,"v":0.001},{"s":"R7","c":5,"v":0.0014},{"s":"R7","c":6,"v":0.0033},{"s":"R7","c":7,"v":0.0007},{"s":"R7","c":8,"v":0.002},{"s":"R7","c":9,"v":0.0026},{"s":"R7","c":10,"v":0.0013},{"s":"R7","c":11,"v":0.0019},{"s":"R7","c":12,"v":0.0002},{"s":"R7","c":13,"v":0.0016},{"s":"R7","c":14,"v":0.0023},{"s":"R7","c":15,"v":0.001},{"s":"R7","c":16,"v":0.0016},{"s":"R7","c":17,"v":0.0011},{"s":"R7","c":18,"v":0.0014},{"s":"R7","c":19,"v":0.0007},{"s":"R7","c":20,"v":0.0007},{"s":"R7","c":21,"v":0.0015},{"s":"R7","c":22,"v":0.0031},{"s":"R7","c":23,"v":0.005},{"s":"R7","c":24,"v":0.0093},{"s":"R7","c":25,"v":0.0178},{"s":"R7","c":26,"v":0.0355},{"s":"R7","c":27,"v":0.0708},{"s":"R7","c":28,"v":0.135},{"s":"R7","c":29,"v":0.251},{"s":"R7","c":30,"v":0.437},{"s":"R7","c":31,"v":0.708},{"s":"R7","c":32,"v":1.09},{"s":"R7","c":33,"v":1.6},{"s":"R7","c":34,"v":2.2},{"s":"R7","c":35,"v":2.88},{"s":"R7","c":36,"v":3.53},{"s":"R7","c":37,"v":4.09},{"s":"R7","c":38,"v":4.73},{"s":"R7","c":39,"v":5.34},{"s":"R7","c":40,"v":5.77},
{"s":"R8","c":1,"v":0.0021},{"s":"R8","c":2,"v":0.003},{"s":"R8","c":3,"v":0.0005},{"s":"R8","c":4,"v":0.0023},{"s":"R8","c":5,"v":0.00002},{"s":"R8","c":6,"v":0.0017},{"s":"R8","c":7,"v":0.0024},{"s":"R8","c":8,"v":0.0012},{"s":"R8","c":9,"v":0.0003},{"s":"R8","c":10,"v":0.0016},{"s":"R8","c":11,"v":0.0022},{"s":"R8","c":12,"v":0.0014},{"s":"R8","c":13,"v":0.0009},{"s":"R8","c":14,"v":0.00015},{"s":"R8","c":15,"v":0.0018},{"s":"R8","c":16,"v":0.0011},{"s":"R8","c":17,"v":0.0006},{"s":"R8","c":18,"v":0.001},{"s":"R8","c":19,"v":0.0013},{"s":"R8","c":20,"v":0.0011},{"s":"R8","c":21,"v":0.0006},{"s":"R8","c":22,"v":0.0021},{"s":"R8","c":23,"v":0.0044},{"s":"R8","c":24,"v":0.0081},{"s":"R8","c":25,"v":0.0155},{"s":"R8","c":26,"v":0.0309},{"s":"R8","c":27,"v":0.0617},{"s":"R8","c":28,"v":0.117},{"s":"R8","c":29,"v":0.219},{"s":"R8","c":30,"v":0.38},{"s":"R8","c":31,"v":0.617},{"s":"R8","c":32,"v":0.955},{"s":"R8","c":33,"v":1.41},{"s":"R8","c":34,"v":1.95},{"s":"R8","c":35,"v":2.57},{"s":"R8","c":36,"v":3.16},{"s":"R8","c":37,"v":3.72},{"s":"R8","c":38,"v":4.3},{"s":"R8","c":39,"v":4.86},{"s":"R8","c":40,"v":5.25}
],
"thr":[{"v":0.2}],
"arrL":[{"c":0.66,"v":0.2}],
"arrR":[{"c":40.36,"v":0.2}]
},
"layer":[
{"data":{"name":"pts"},
"transform":[{"lookup":"s","from":{"data":{"name":"ser"},"key":"s","fields":["t"]}}],
"mark":{"type":"line","strokeWidth":1,"clip":true},
"encoding":{
"x":{"field":"c","type":"quantitative","scale":{"domain":[0.5,40.5],"nice":false,"zero":false},
"axis":{"values":[1,2,3,4,5,6,7,8,9,10,11,12,13,14,15,16,17,18,19,20,21,22,23,24,25,26,27,28,29,30,31,32,33,34,35,36,37,38,39,40],"tickCount":60,"format":"d","grid":true,"labelPadding":9,"labelOverlap":false}},
"y":{"field":"v","type":"quantitative","scale":{"type":"log","domain":[1e-7,100],"nice":false},
"axis":{"values":[100,10,1,0.1,0.01,0.001,0.0001,0.00001,0.000001,0.0000001],"tickCount":20,"grid":true,"labelPadding":11,"labelOverlap":false,"labelExpr":"'1.000e' + (datum.value >= 1 ? '+' : '-') + '00' + round(abs(log(datum.value)/LN10))"}},
"color":{"field":"t","type":"nominal","scale":{"domain":["r","g"],"range":["#ff0000","#00ff00"]},"legend":null},
"detail":{"field":"s"}}},
{"data":{"name":"pts"},
"transform":[{"filter":{"or":[{"and":[{"field":"s","oneOf":["R1","R2","R3","R4","R5","R6","R7","R8"]},{"field":"c","gte":22}]},{"and":[{"field":"s","oneOf":["A1","A2","A3","A4","A5","B1","B2","B3","B4","L1","L2","L3","L4"]},{"field":"c","gte":25}]}]}},{"lookup":"s","from":{"data":{"name":"ser"},"key":"s","fields":["t"]}}],
"mark":{"type":"line","strokeWidth":2.4,"clip":true},
"encoding":{
"x":{"field":"c","type":"quantitative"},
"y":{"field":"v","type":"quantitative"},
"color":{"field":"t","type":"nominal","scale":{"domain":["r","g"],"range":["#ff0000","#00ff00"]},"legend":null},
"detail":{"field":"s"}}},
{"data":{"name":"thr"},
"mark":{"type":"rule","color":"#228b22","strokeWidth":2.5},
"encoding":{"y":{"field":"v","type":"quantitative"}}},
{"data":{"name":"arrL"},
"mark":{"type":"point","shape":"triangle-left","filled":true,"color":"#1f6b1f","size":45,"opacity":1},
"encoding":{"x":{"field":"c","type":"quantitative"},"y":{"field":"v","type":"quantitative"}}},
{"data":{"name":"arrR"},
"mark":{"type":"point","shape":"triangle-right","filled":true,"color":"#1f6b1f","size":45,"opacity":1},
"encoding":{"x":{"field":"c","type":"quantitative"},"y":{"field":"v","type":"quantitative"}}}
]
}
